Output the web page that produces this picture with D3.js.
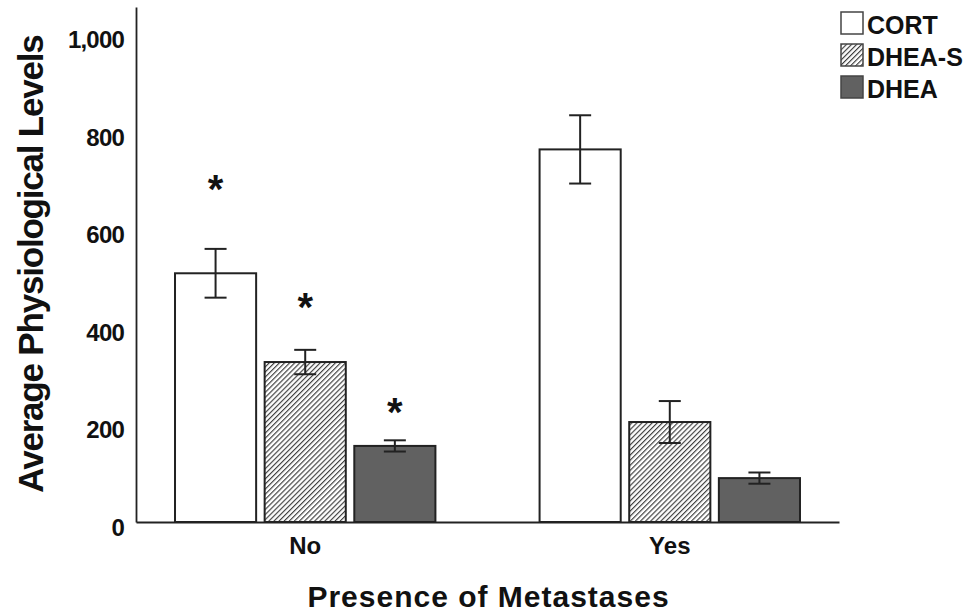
<!DOCTYPE html>
<html>
<head>
<meta charset="utf-8">
<script src="https://cdn.jsdelivr.net/npm/d3@7"></script>
<style>
  body { margin: 0; background: #fff; }
  svg { display: block; font-family: "Liberation Sans", Arial, sans-serif; }
</style>
</head>
<body>
<svg id="chart" width="976" height="613"></svg>
<script>
// values
const groups = ["No", "Yes"];
const hormones = ["CORT", "DHEA-S", "DHEA"];
const cortMeans = [510, 764];
const cortErrors = [50, 70];
const dheasMeans = [328, 205];
const dheasErrors = [25, 43];
const dheaMeans = [156, 90];
const dheaErrors = [11.5, 11.5];
const yTicks = [0, 200, 400, 600, 800, 1000];
// height (in data units) of the significance stars, "No" group only
const starGroup = "No";
const starValues = [699, 457, 242];

const means = { "CORT": cortMeans, "DHEA-S": dheasMeans, "DHEA": dheaMeans };
const errors = { "CORT": cortErrors, "DHEA-S": dheasErrors, "DHEA": dheaErrors };

const rows = [];
groups.forEach((g, gi) => {
    hormones.forEach(h => {
        rows.push({ group: g, hormone: h, mean: means[h][gi], err: errors[h][gi] });
    });
});

const fills = { "CORT": "#ffffff", "DHEA-S": "url(#hatch)", "DHEA": "#616161" };
const ink = "#222";

const svg = d3.select("#chart");
const plotLeft = 136, plotRight = 839, plotTop = 7, plotBottom = 522;

const defs = svg.append("defs");
const pat = defs.append("pattern")
    .attr("id", "hatch")
    .attr("patternUnits", "userSpaceOnUse")
    .attr("width", 3.6)
    .attr("height", 3.6)
    .attr("patternTransform", "rotate(45)");
pat.append("rect").attr("width", 3.6).attr("height", 3.6).attr("fill", "#fff");
pat.append("line")
    .attr("x1", 0.6).attr("y1", 0).attr("x2", 0.6).attr("y2", 3.6)
    .attr("stroke", "#333").attr("stroke-width", 1.1);

const x0 = d3.scaleBand()
    .domain(groups)
    .range([plotLeft, plotRight])
    .paddingInner(0.2857)
    .paddingOuter(0.107);

const x1 = d3.scaleBand()
    .domain(hormones)
    .range([0, x0.bandwidth()])
    .paddingInner(0.095);

const y = d3.scaleLinear()
    .domain([0, 1056])
    .range([plotBottom, plotTop]);

// axes
const yAxis = svg.append("g")
    .attr("transform", `translate(${plotLeft},0)`)
    .call(d3.axisLeft(y).tickValues(yTicks).tickFormat(d3.format(",")).tickSize(0).tickPadding(12));
yAxis.select(".domain").attr("stroke", ink).attr("stroke-width", 1.8);
yAxis.selectAll("text")
    .attr("font-size", "24px")
    .attr("font-weight", "bold")
    .attr("letter-spacing", "-0.8px")
    .attr("fill", "#111")
    .attr("dy", "0.55em");

const xAxis = svg.append("g")
    .attr("transform", `translate(0,${plotBottom})`)
    .call(d3.axisBottom(x0).tickSize(0).tickPadding(15));
xAxis.select(".domain").attr("stroke", ink).attr("stroke-width", 1.8);
xAxis.selectAll("text")
    .attr("font-size", "24px")
    .attr("font-weight", "bold")
    .attr("fill", "#111");

// bars
const barG = svg.append("g");
barG.selectAll("rect")
    .data(rows)
    .join("rect")
    .attr("x", d => x0(d.group) + x1(d.hormone))
    .attr("y", d => y(d.mean))
    .attr("width", x1.bandwidth())
    .attr("height", d => y(0) - y(d.mean))
    .attr("fill", d => fills[d.hormone])
    .attr("stroke", ink)
    .attr("stroke-width", 2);

// error bars
const capW = 11;
const eb = svg.append("g").attr("stroke", ink).attr("stroke-width", 2);
rows.forEach(d => {
    const cx = x0(d.group) + x1(d.hormone) + x1.bandwidth() / 2;
    eb.append("line").attr("x1", cx).attr("x2", cx).attr("y1", y(d.mean + d.err)).attr("y2", y(d.mean - d.err));
    eb.append("line").attr("x1", cx - capW).attr("x2", cx + capW).attr("y1", y(d.mean + d.err)).attr("y2", y(d.mean + d.err));
    eb.append("line").attr("x1", cx - capW).attr("x2", cx + capW).attr("y1", y(d.mean - d.err)).attr("y2", y(d.mean - d.err));
});

// significance stars
svg.append("g").selectAll("text")
    .data(hormones)
    .join("text")
    .attr("x", h => x0(starGroup) + x1(h) + x1.bandwidth() / 2)
    .attr("y", (h, i) => y(starValues[i]) + 22)
    .attr("text-anchor", "middle")
    .attr("font-size", "40px")
    .attr("font-weight", "bold")
    .attr("fill", "#111")
    .text("*");

// axis titles
svg.append("text")
    .attr("transform", "translate(43,264) rotate(-90)")
    .attr("text-anchor", "middle")
    .attr("font-size", "35px")
    .attr("font-weight", "bold")
    .attr("letter-spacing", "-1.2px")
    .attr("fill", "#111")
    .text("Average Physiological Levels");

svg.append("text")
    .attr("x", (plotLeft + plotRight) / 2 + 1)
    .attr("y", 607)
    .attr("text-anchor", "middle")
    .attr("font-size", "30px")
    .attr("font-weight", "bold")
    .attr("letter-spacing", "1px")
    .attr("fill", "#111")
    .text("Presence of Metastases");

// legend
const legend = svg.append("g").attr("transform", "translate(841,12)");
const item = legend.selectAll("g")
    .data(hormones)
    .join("g")
    .attr("transform", (d, i) => `translate(0,${i * 32})`);
item.append("rect")
    .attr("width", 22)
    .attr("height", 22)
    .attr("fill", d => fills[d])
    .attr("stroke", "#444")
    .attr("stroke-width", 1.5);
item.append("text")
    .attr("x", 26)
    .attr("y", 22)
    .attr("font-size", "25px")
    .attr("font-weight", "bold")
    .attr("fill", "#111")
    .text(d => d);
</script>
</body>
</html>
